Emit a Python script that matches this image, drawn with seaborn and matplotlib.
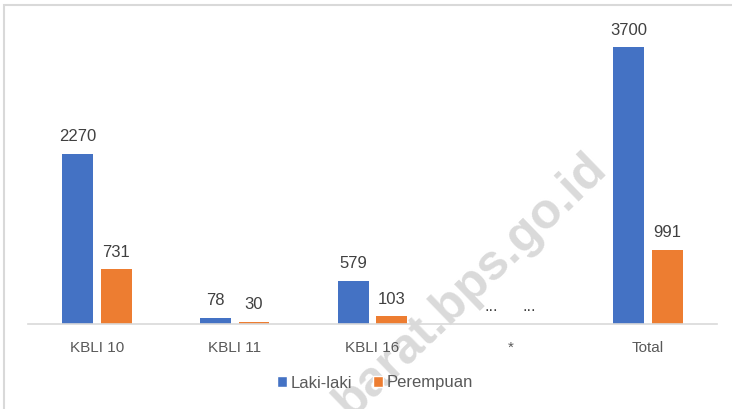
import matplotlib
matplotlib.use('Agg')
import matplotlib.pyplot as plt
import seaborn as sns
import pandas as pd
from matplotlib.patches import Patch, Rectangle

categories = ["KBLI 10", "KBLI 11", "KBLI 16", "*", "Total"]
laki = [2270, 78, 579, 0, 3700]
perempuan = [731, 30, 103, 0, 991]
laki_labels = ["2270", "78", "579", "...", "3700"]
perempuan_labels = ["731", "30", "103", "...", "991"]
series = ["Laki-laki", "Perempuan"]
colors = ["#4472C4", "#ED7D31"]

sns.set_theme(style="white")
plt.rcParams['font.family'] = ['Liberation Sans', 'DejaVu Sans']

df = pd.DataFrame({
    "Kategori": categories * 2,
    "Jenis": [series[0]] * len(categories) + [series[1]] * len(categories),
    "Nilai": laki + perempuan,
})

W, H = 732, 409
fig = plt.figure(figsize=(W / 100, H / 100), dpi=100)
fig.patch.set_facecolor("white")

fig.text(471 / W, 1 - 285 / H, "barat.bps.go.id", rotation=44, rotation_mode="anchor",
         ha="center", va="center", fontsize=36, fontweight="bold",
         family=["Liberation Sans", "DejaVu Sans"], color="#dadada", zorder=-1)

ax = fig.add_axes([28 / W, (H - 324) / H, (717 - 28) / W, (324 - 20) / H])
ax.patch.set_alpha(0)

sns.barplot(data=df, x="Kategori", y="Nilai", hue="Jenis", order=categories,
            hue_order=series, palette=colors, saturation=1, width=0.56, gap=0.2,
            errorbar=None, linewidth=0, ax=ax, legend=False)

for cont, labs in zip(ax.containers, [laki_labels, perempuan_labels]):
    ax.bar_label(cont, labels=labs, padding=7, fontsize=12, color="#404040")

ax.set_ylim(0, 4064)
ax.set_xlim(-0.5, len(categories) - 0.5)
ax.set_xlabel("")
ax.set_ylabel("")
ax.set_yticks([])
for s in ["left", "top", "right"]:
    ax.spines[s].set_visible(False)
ax.spines["bottom"].set_color("#d9d9d9")
ax.spines["bottom"].set_linewidth(1.2)
ax.tick_params(axis="x", length=0, pad=12, labelsize=11, labelcolor="#595959")

handles = [Patch(facecolor=c, label=s) for c, s in zip(colors, series)]
leg = fig.legend(handles=handles, loc="center", bbox_to_anchor=(375 / W, 1 - 383 / H),
                 ncol=2, frameon=False, handlelength=0.6, handleheight=0.6,
                 handletextpad=0.25, columnspacing=1.2, fontsize=12)
for t in leg.get_texts():
    t.set_color("#595959")

rect = Rectangle((4 / W, -0.05), 1.1, (H - 5) / H + 0.05, transform=fig.transFigure,
                 fill=False, edgecolor="#d9d9d9", linewidth=1.5, clip_on=False)
fig.add_artist(rect)

fig.savefig("out.png", dpi=100)
